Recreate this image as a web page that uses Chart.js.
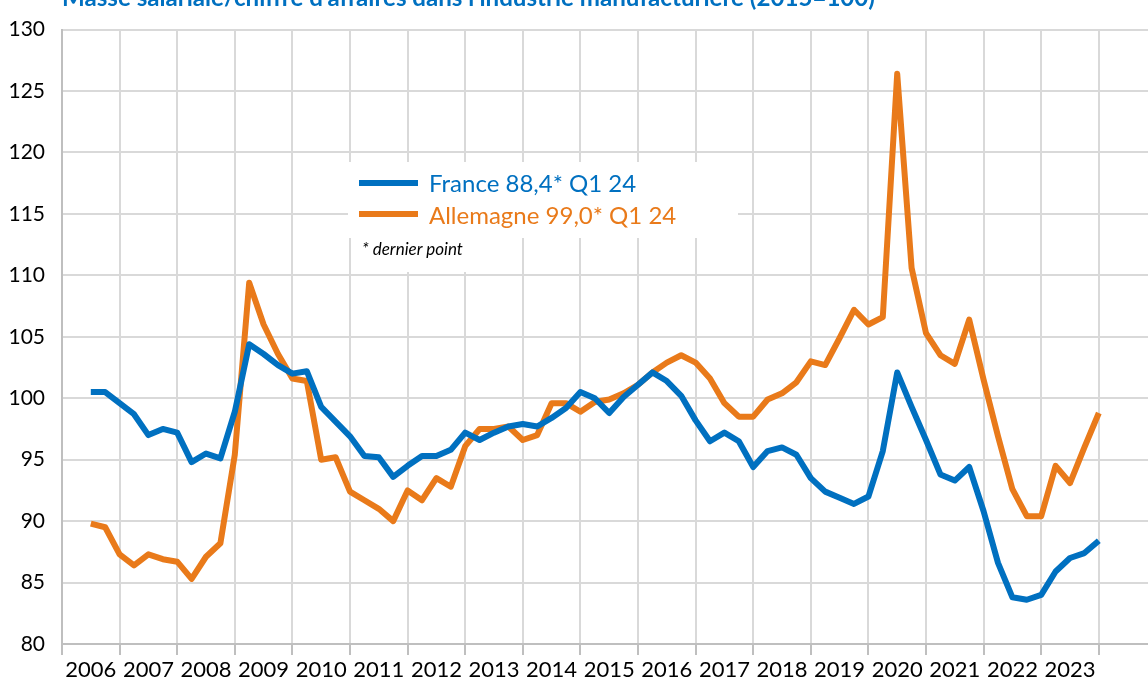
<!DOCTYPE html>
<html lang="fr">
<head>
<meta charset="utf-8">
<title>Masse salariale / chiffre d'affaires</title>
<script src="https://cdn.jsdelivr.net/npm/chart.js@4.4.1/dist/chart.umd.min.js"></script>
<style>
  html, body { margin: 0; padding: 0; background: #fff; overflow: hidden; }
  #wrap { position: relative; width: 1148px; height: 683px; overflow: hidden; }
  #chart { position: absolute; left: 0; top: 0; }
  #title { position: absolute; left: 62px; top: -13px; font: bold 20px Lato, sans-serif; line-height: 20px; color: #0070C0; white-space: nowrap; }
  #legend { position: absolute; left: 348px; top: 162px; width: 390px; height: 76px; background: #fff; }
  #legend .item { position: absolute; left: 11px; height: 30px; display: flex; align-items: center; font: 24px Lato, sans-serif; white-space: nowrap; }
  #legend .swatch { width: 59px; height: 6px; margin-right: 11px; }
  #note { position: absolute; left: 352px; top: 236px; width: 130px; height: 36px; background: #fff; }
  #note span { position: absolute; left: 10px; top: 2px; font: italic 17px Lato, sans-serif; color: #000; white-space: nowrap; }
</style>
</head>
<body>
<div id="wrap">
  <canvas id="chart" width="1160" height="683"></canvas>
  <div id="title">Masse salariale/chiffre d'affaires dans l'industrie manufacturière (2015=100)</div>
  <div id="legend"></div>
  <div id="note"><span>* dernier point</span></div>
</div>
<script>
// quarters (T = trimestre)
const quarters = [
  "2006T3", "2006T4",
  "2007T1", "2007T2", "2007T3", "2007T4",
  "2008T1", "2008T2", "2008T3", "2008T4",
  "2009T1", "2009T2", "2009T3", "2009T4",
  "2010T1", "2010T2", "2010T3", "2010T4",
  "2011T1", "2011T2", "2011T3", "2011T4",
  "2012T1", "2012T2", "2012T3", "2012T4",
  "2013T1", "2013T2", "2013T3", "2013T4",
  "2014T1", "2014T2", "2014T3", "2014T4",
  "2015T1", "2015T2", "2015T3", "2015T4",
  "2016T1", "2016T2", "2016T3", "2016T4",
  "2017T1", "2017T2", "2017T3", "2017T4",
  "2018T1", "2018T2", "2018T3", "2018T4",
  "2019T1", "2019T2", "2019T3", "2019T4",
  "2020T1", "2020T2", "2020T3", "2020T4",
  "2021T1", "2021T2", "2021T3", "2021T4",
  "2022T1", "2022T2", "2022T3", "2022T4",
  "2023T1", "2023T2", "2023T3", "2023T4",
  "2024T1"
];

const france = [
  100.5, 100.5,
  99.6, 98.7, 97.0, 97.5,
  97.2, 94.8, 95.5, 95.1,
  98.9, 104.4, 103.6, 102.7,
  102.0, 102.2, 99.3, 98.1,
  96.9, 95.3, 95.2, 93.6,
  94.5, 95.3, 95.3, 95.8,
  97.2, 96.6, 97.2, 97.7,
  97.9, 97.7, 98.4, 99.2,
  100.5, 100.0, 98.8, 100.1,
  101.1, 102.1, 101.4, 100.2,
  98.2, 96.5, 97.2, 96.5,
  94.4, 95.7, 96.0, 95.4,
  93.5, 92.4, 91.9, 91.4,
  92.0, 95.7, 102.1, 99.3,
  96.6, 93.8, 93.3, 94.4,
  90.8, 86.6, 83.8, 83.6,
  84.0, 85.9, 87.0, 87.4,
  88.4
];

const allemagne = [
  89.8, 89.5,
  87.3, 86.4, 87.3, 86.9,
  86.7, 85.3, 87.1, 88.2,
  95.4, 109.4, 106.0, 103.6,
  101.6, 101.4, 95.0, 95.2,
  92.4, 91.7, 91.0, 90.0,
  92.5, 91.7, 93.5, 92.8,
  96.1, 97.5, 97.5, 97.7,
  96.6, 97.0, 99.6, 99.6,
  98.9, 99.7, 99.9, 100.4,
  101.1, 102.1, 102.9, 103.5,
  102.9, 101.6, 99.6, 98.5,
  98.5, 99.9, 100.4, 101.3,
  103.0, 102.7, 104.9, 107.2,
  106.0, 106.6, 126.4, 110.6,
  105.3, 103.5, 102.8, 106.4,
  101.5, 96.9, 92.6, 90.4,
  90.4, 94.5, 93.1, 96.0,
  98.8
];

const yearLabels = ["2006", "2007", "2008", "2009", "2010", "2011", "2012", "2013", "2014",
  "2015", "2016", "2017", "2018", "2019", "2020", "2021", "2022", "2023"];
const yTicks = [80, 85, 90, 95, 100, 105, 110, 115, 120, 125, 130];

const seriesNames = ["France 88,4* Q1 24", "Allemagne 99,0* Q1 24"];
const BLUE = "#0070C0";
const ORANGE = "#E97A1A";

// quarter "2009T2" -> 2009.25 on the linear axis
function qToX(q) {
  return parseInt(q.slice(0, 4)) + (parseInt(q.slice(5)) - 1) / 4;
}
function toPoints(vals) {
  return vals.map((v, i) => ({ x: qToX(quarters[i]), y: v }));
}

const FONT = "Lato, 'Open Sans', sans-serif";
const firstYear = parseInt(yearLabels[0]);

const chart = new Chart(document.getElementById("chart"), {
  type: "line",
  data: {
    datasets: [
      { label: seriesNames[0], data: toPoints(france), borderColor: BLUE, backgroundColor: BLUE },
      { label: seriesNames[1], data: toPoints(allemagne), borderColor: ORANGE, backgroundColor: ORANGE }
    ]
  },
  options: {
    responsive: false,
    animation: false,
    layout: { padding: { top: 21, right: 3.6, bottom: 0, left: 0 } },
    elements: {
      line: { borderWidth: 6, tension: 0, borderJoinStyle: "round", borderCapStyle: "butt" },
      point: { radius: 0, hoverRadius: 0 }
    },
    plugins: {
      legend: { display: false },
      tooltip: { enabled: false }
    },
    scales: {
      x: {
        type: "linear",
        min: firstYear,
        max: firstYear + yearLabels.length + 1,
        afterBuildTicks: (s) => {
          const t = [];
          for (let y = s.min; y <= s.max; y++) t.push({ value: y });
          s.ticks = t;
        },
        afterFit: (s) => { s.height = 39; },
        grid: { color: "#d9d9d9", lineWidth: 2, drawTicks: true, tickLength: 11, tickColor: "#bfbfbf", tickWidth: 2 },
        border: { color: "#bfbfbf", width: 2 },
        ticks: {
          autoSkip: false,
          maxRotation: 0,
          labelOffset: 28.8,
          padding: 2,
          color: "#000",
          font: { family: FONT, size: 22 },
          callback: (v) => yearLabels[v - firstYear] || ""
        }
      },
      y: {
        min: yTicks[0],
        max: yTicks[yTicks.length - 1],
        afterBuildTicks: (s) => { s.ticks = yTicks.map(v => ({ value: v })); },
        afterFit: (s) => { s.width = 62; },
        grid: { color: "#d9d9d9", lineWidth: 2, drawTicks: false },
        border: { color: "#bfbfbf", width: 2 },
        ticks: {
          padding: 17,
          color: "#000",
          font: { family: FONT, size: 21 },
          callback: (v) => String(v)
        }
      }
    }
  }
});

// legend box built from the datasets
const legend = document.getElementById("legend");
const rowTops = [5.7, 37];
chart.data.datasets.forEach((ds, i) => {
  const item = document.createElement("div");
  item.className = "item";
  item.style.top = rowTops[i] + "px";
  item.style.color = ds.borderColor;
  const sw = document.createElement("span");
  sw.className = "swatch";
  sw.style.background = ds.borderColor;
  item.appendChild(sw);
  item.appendChild(document.createTextNode(ds.label));
  legend.appendChild(item);
});

// fit the (cropped) title to its width in the original
const title = document.getElementById("title");
const ctx = document.createElement("canvas").getContext("2d");
ctx.font = "bold 20px " + FONT;
const w = ctx.measureText(title.textContent).width;
title.style.fontSize = (20 * 813 / w).toFixed(2) + "px";
</script>
</body>
</html>
